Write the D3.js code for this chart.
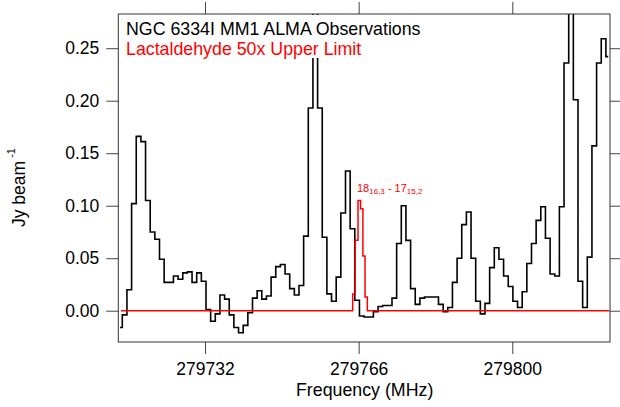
<!DOCTYPE html>
<html>
<head>
<meta charset="utf-8">
<script src="https://cdn.jsdelivr.net/npm/d3@7"></script>
<style>
  body { margin: 0; background: #fff; }
  text { font-family: "Liberation Sans", Arial, Helvetica, sans-serif; }
</style>
</head>
<body>
<div id="chart"></div>
<script>
// Observed spectrum (ALMA channels, ~1.03 MHz wide)
const chanStart = 279713.18;
const chanWidth = 1.029;
const fluxObs = [
  -0.016, -0.004, 0.020, 0.102, 0.166, 0.161, 0.105, 0.075, 0.068, 0.049,
  0.027, 0.027, 0.033, 0.030, 0.036, 0.037, 0.027, 0.036, 0.028, 0.001,
  -0.010, -0.003, 0.015, 0.011, -0.004, -0.016, -0.021, -0.014, -0.002, 0.012,
  0.019, 0.011, 0.014, 0.032, 0.042, 0.044, 0.035, 0.021, 0.015, 0.024,
  0.071, 0.193, 0.300, 0.193, 0.070, 0.016, 0.009, 0.032, 0.093, 0.133,
  0.078, 0.010, -0.005, -0.006, -0.006, -0.001, 0.004, 0.005, 0.005, 0.012,
  0.064, 0.100, 0.067, 0.021, 0.006, 0.012, 0.013, 0.013, 0.013, 0.006,
  -0.001, 0.003, 0.027, 0.050, 0.082, 0.094, 0.050, 0.009, -0.003, 0.007,
  0.041, 0.060, 0.049, 0.033, 0.023, 0.009, 0.003, 0.018, 0.045, 0.064,
  0.086, 0.099, 0.069, 0.035, 0.033, 0.099, 0.236, 0.320, 0.201, 0.028,
  0.003, 0.051, 0.157, 0.236, 0.259, 0.242
];

// Lactaldehyde model x50 (step edges, MHz)
const modelFreq = [279713.41, 279764.68, 279765.22, 279765.86, 279766.43, 279766.94, 279767.41, 279767.92, 279821.5];
const modelFlux = [0, 0.016, 0.067, 0.105, 0.097, 0.052, 0.013, 0, 0];

const xTicks = [279732, 279766, 279800];
const yTicks = [0.00, 0.05, 0.10, 0.15, 0.20, 0.25];

const width = 620, height = 407;
const svg = d3.select("#chart").append("svg")
    .attr("width", width)
    .attr("height", height);

const x = d3.scaleLinear().domain([279712.81, 279821.62]).range([118.3, 610]);
const y = d3.scaleLinear().domain([-0.0298, 0.2826]).range([342, 14]);

svg.append("clipPath").attr("id", "plotclip")
  .append("rect")
    .attr("x", 118.3).attr("y", 14)
    .attr("width", 610 - 118.3).attr("height", 342 - 14);

const obs = fluxObs.map((v, i) => ({ f: chanStart + i * chanWidth, v: v }));
const model = modelFreq.map((f, i) => ({ f: f, v: modelFlux[i] }));

const plot = svg.append("g").attr("clip-path", "url(#plotclip)");

// observed spectrum
plot.append("path")
    .datum(obs)
    .attr("fill", "none")
    .attr("stroke", "#000")
    .attr("stroke-width", 1.6)
    .attr("d", d3.line().curve(d3.curveStep).x(d => x(d.f)).y(d => y(d.v)));

// model upper limit
plot.append("path")
    .datum(model)
    .attr("fill", "none")
    .attr("stroke", "#ff0000")
    .attr("stroke-width", 1.5)
    .attr("d", d3.line().curve(d3.curveStepAfter).x(d => x(d.f)).y(d => y(d.v)));

// axes (ticks out on all sides)
const tickCol = "#444";
const gx = svg.append("g").attr("transform", "translate(0,342)")
    .call(d3.axisBottom(x).tickValues(xTicks).tickSize(12).tickSizeOuter(0)
      .tickPadding(9).tickFormat(d3.format("d")));
const gy = svg.append("g").attr("transform", "translate(118.3,0)")
    .call(d3.axisLeft(y).tickValues(yTicks).tickSize(12).tickSizeOuter(0)
      .tickPadding(7).tickFormat(d3.format(".2f")));
const gt = svg.append("g").attr("transform", "translate(0,14)")
    .call(d3.axisTop(x).tickValues(xTicks).tickSize(12).tickSizeOuter(0).tickFormat(""));
const gr = svg.append("g").attr("transform", "translate(610,0)")
    .call(d3.axisRight(y).tickValues(yTicks).tickSize(12).tickSizeOuter(0).tickFormat(""));

[gx, gy, gt, gr].forEach(g => {
  g.select(".domain").remove();
  g.selectAll(".tick line").attr("stroke", tickCol).attr("stroke-width", 1);
  g.selectAll(".tick text")
    .attr("fill", "#000")
    .style("font-family", '"Liberation Sans", Arial, Helvetica, sans-serif')
    .style("font-size", "17.5px");
});

// frame
svg.append("rect")
    .attr("x", 118.3).attr("y", 14)
    .attr("width", 610 - 118.3).attr("height", 342 - 14)
    .attr("fill", "none")
    .attr("stroke", "#333")
    .attr("stroke-width", 1);

// legend block (opaque)
svg.append("rect")
    .attr("x", 119.3).attr("y", 15)
    .attr("width", 308).attr("height", 43)
    .attr("fill", "#fff");

svg.append("text")
    .attr("x", 126).attr("y", 34.5)
    .attr("font-size", "17.8px")
    .attr("fill", "#000")
    .text("NGC 6334I MM1 ALMA Observations");

svg.append("text")
    .attr("x", 126).attr("y", 55)
    .attr("font-size", "17.8px")
    .attr("fill", "#ff0000")
    .text("Lactaldehyde 50x Upper Limit");

// transition label
const lab = svg.append("text")
    .attr("x", 357).attr("y", 191.7)
    .attr("font-size", "11px")
    .attr("fill", "#ff0000");
lab.append("tspan").text("18");
lab.append("tspan").attr("font-size", "8px").attr("dy", 2.5).text("16,3");
lab.append("tspan").attr("dy", -2.5).text(" - 17");
lab.append("tspan").attr("font-size", "8px").attr("dy", 2.5).text("15,2");

// axis titles
svg.append("text")
    .attr("x", (x.range()[0] + x.range()[1]) / 2 + 0.5)
    .attr("y", 396)
    .attr("text-anchor", "middle")
    .attr("font-size", "17.8px")
    .attr("fill", "#000")
    .text("Frequency (MHz)");

const yt = svg.append("text")
    .attr("transform", "translate(25,227) rotate(-90)")
    .attr("font-size", "17.5px")
    .attr("fill", "#000");
yt.append("tspan").text("Jy beam");
yt.append("tspan").attr("font-size", "11px").attr("dx", 3).attr("dy", -10).text("-1");
</script>
</body>
</html>
